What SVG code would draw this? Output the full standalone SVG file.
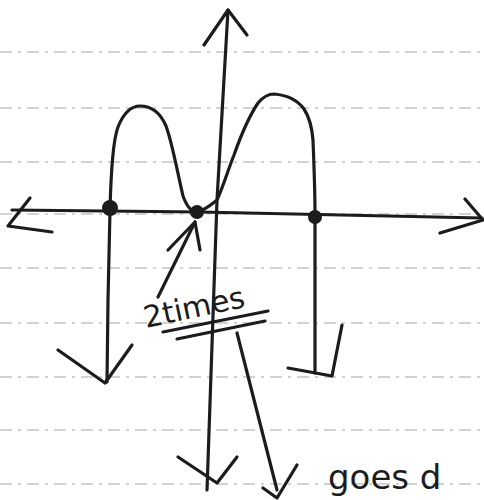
<svg xmlns="http://www.w3.org/2000/svg" width="484" height="500" viewBox="0 0 484 500">
<style>
.rule{stroke:#c4c4c4;stroke-width:1.3;stroke-dasharray:12 6 3 6;fill:none}
.ink{stroke:#1c1c1c;stroke-width:3.2;fill:none;stroke-linecap:round;stroke-linejoin:round}
.dot{fill:#1c1c1c}
.hand{font-family:"DejaVu Sans",sans-serif;fill:#1c1c1c}
</style>
<rect width="484" height="500" fill="#ffffff"/>
<g id="ruled-lines">
<line class="rule" x1="0" y1="52" x2="484" y2="52"/>
<line class="rule" x1="0" y1="108" x2="484" y2="108"/>
<line class="rule" x1="0" y1="162" x2="484" y2="162"/>
<line class="rule" x1="0" y1="214" x2="484" y2="214"/>
<line class="rule" x1="0" y1="268" x2="484" y2="268"/>
<line class="rule" x1="0" y1="323" x2="484" y2="323"/>
<line class="rule" x1="0" y1="377" x2="484" y2="377"/>
<line class="rule" x1="0" y1="430" x2="484" y2="430"/>
<line class="rule" x1="0" y1="484" x2="484" y2="484"/>
</g>
<g id="axes">
<path class="ink" d="M12,210 L200,212 L482,218"/>
<path class="ink" d="M30,198 L8,226 L52,232"/>
<path class="ink" d="M465,199 L483,220 L440,233"/>
<path class="ink" d="M228,10 L217,200 L207,490"/>
<path class="ink" d="M204,45 L228,10 L247,35"/>
<path class="ink" d="M178,457 L217,483 L237,457"/>
</g>
<g id="curve">
<path class="ink" d="M107,382 L108,300 L110,210 C111,170 113,140 118,127 C124,112 131,106 140,106 C152,106 160,112 166,126 C172,142 177,170 183,196 C187,207 192,212 197,212 C205,210 212,204 217,200 C222,190 228,170 234,155 C240,138 248,118 258,103 C263,97 268,94 274,94 C285,95 296,98 304,109 C310,118 312,128 313,140 C314,165 315,190 315,213 L315,373"/>
<path class="ink" d="M58,350 L105,383 L132,345"/>
<path class="ink" d="M288,368 L332,376 L342,325"/>
</g>
<g id="zeros">
<circle id="zero-1" class="dot" cx="110" cy="208" r="8"/>
<circle id="zero-2" class="dot" cx="197" cy="212" r="7"/>
<circle id="zero-3" class="dot" cx="315" cy="217" r="7"/>
</g>
<g id="connectors">
<path class="ink" d="M158,297 L195,222"/>
<path class="ink" d="M168,250 L195,222 L200,250"/>
<path class="ink" d="M237,333 L277,490"/>
<path class="ink" d="M263,488 L277,498 L297,465"/>
<path class="ink" d="M163,332 L268,311"/>
<path class="ink" d="M177,339 L265,321"/>
</g>
<g id="label-2-times">
<text class="hand" x="146" y="328" font-size="30" transform="rotate(-12 146 328)">2times</text>
</g>
<g id="label-goes">
<text class="hand" x="328" y="489" font-size="34">goes d</text>
</g>
</svg>
